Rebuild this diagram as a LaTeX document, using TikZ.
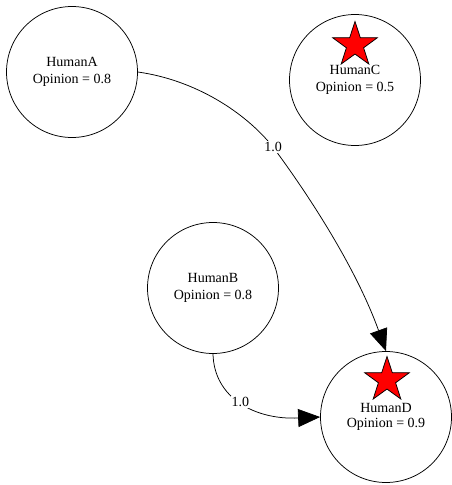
\documentclass[tikz,border=0pt]{standalone}
\usepackage{fontspec}
\setmainfont{Liberation Serif}
\usetikzlibrary{arrows.meta,shapes.geometric}
\begin{document}
\begin{tikzpicture}[x=1pt,y=-1pt,
  human/.style={draw,circle,line width=0.75pt,minimum size=131pt,inner sep=0pt,align=center,font=\fontsize{14pt}{17pt}\selectfont},
  redstar/.style={draw,line width=0.75pt,fill=red,star,star points=5,star point ratio=2.6,minimum size=47pt,inner sep=0pt},
  edge/.style={-{Triangle[length=22pt,width=18pt]},line width=0.75pt},
  elabel/.style={fill=white,inner sep=1pt,font=\fontsize{14pt}{17pt}\selectfont}]
\path[fill=white] (0,0) rectangle (451,485);
\useasboundingbox (0,0) rectangle (451,485);
\node[human] (A) at (72,72) {HumanA\\Opinion = 0.8};
\node[human] (C) at (355,80) {HumanC\\Opinion = 0.5};
\node[human] (B) at (213,288) {HumanB\\Opinion = 0.8};
\node[human] (D) at (386,417) {HumanD\\[-2pt]Opinion = 0.9};
\node[redstar] (sC) at (355,45) {};
\node[redstar] (sD) at (387,380) {};
\draw[edge] (A.east) .. controls (195,80) and (245,112) .. (273,147)
  node[elabel] {1.0}
  .. controls (305,190) and (355,265) .. (D.north);
\draw[edge] (B.south) .. controls (214,398) and (255,420) .. (D.west)
  node[elabel,pos=0.48] {1.0};
\end{tikzpicture}
\end{document}
